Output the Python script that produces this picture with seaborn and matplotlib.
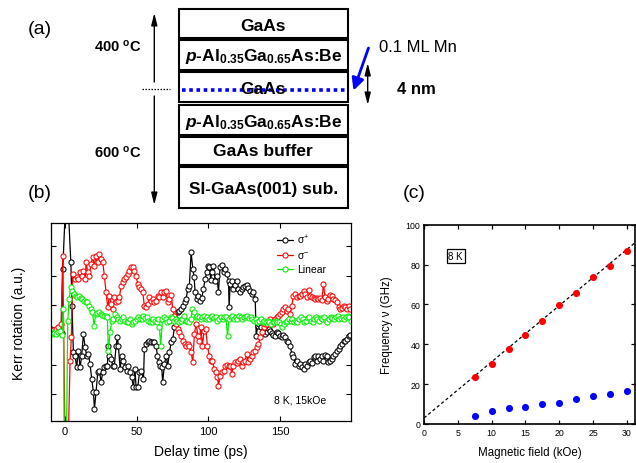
import numpy as np
import pandas as pd
import matplotlib
matplotlib.use("Agg")
import matplotlib.pyplot as plt
import seaborn as sns
from matplotlib.patches import Rectangle

# ---------------- panel (b) data: Kerr rotation vs delay time ----------------
sigma_plus_t = [-9.8, -8.1, -6.3, -4.7, -2.3, -1.6, 1.2, 4.0, 4.9, 5.8,
                7.0, 8.1, 9.3, 10.5, 11.6, 12.8, 14.0, 15.1, 16.3, 17.4,
                18.6, 19.8, 20.5, 21.6, 22.8, 24.0, 25.1, 26.3, 27.4, 28.6,
                29.5, 30.2, 30.9, 32.1, 33.3, 34.4, 35.6, 36.5, 37.2, 38.4,
                39.5, 40.7, 41.9, 43.0, 44.2, 45.3, 46.5, 47.7, 48.8, 49.5,
                50.7, 51.9, 53.0, 54.7, 55.3, 56.5, 57.7, 58.8, 60.0, 61.2,
                62.3, 63.5, 64.4, 65.3, 66.3, 67.4, 68.1, 69.3, 70.5, 71.6,
                72.8, 74.0, 75.1, 76.3, 77.4, 78.6, 79.8, 80.9, 82.1, 83.3,
                84.4, 85.6, 86.7, 87.9, 89.1, 90.0, 90.7, 91.9, 93.0, 94.2,
                95.3, 96.5, 97.7, 98.8, 100.0, 100.7, 101.6, 102.3, 103.5, 104.7,
                105.8, 107.0, 108.1, 109.3, 110.5, 111.6, 112.8, 114.0, 114.4, 115.1,
                116.3, 117.4, 118.6, 119.8, 120.9, 122.1, 123.3, 124.4, 125.6, 126.7,
                127.9, 129.1, 130.2, 131.4, 132.6, 133.3, 134.4, 135.6, 136.7, 137.9,
                139.1, 140.7, 141.9, 143.0, 144.2, 145.3, 146.5, 147.7, 148.8, 150.0,
                151.2, 152.3, 153.5, 154.7, 155.8, 157.0, 158.1, 159.3, 160.5, 161.6,
                162.8, 164.0, 165.1, 166.3, 167.4, 168.6, 169.8, 170.9, 172.1, 173.3,
                174.4, 175.6, 176.7, 177.9, 179.1, 180.2, 181.4, 182.6, 183.7, 184.9,
                186.0, 187.2, 188.4, 189.5, 190.7, 191.9, 193.0, 194.2, 195.3, 196.5,
                197.7, 198.8]
sigma_plus_kerr = [18, 10, 6, 8, 6, 198, 478, 220, 88, -52,
                   -62, -97, -47, -97, -62, 3, -37, -62, -57, -87,
                   -132, -172, -222, -172, -112, -107, -142, -112, -97, -92,
                   -92, -32, -62, -72, -92, -92, -32, -7, -32, -102,
                   -62, -77, -97, -107, -92, -112, -127, -157, -102, -157,
                   -157, -112, -107, -132, -42, -27, -22, -17, -20, -22,
                   -22, -32, -62, -82, -92, -97, -142, -87, -62, -92,
                   -52, -22, -12, 23, 48, 68, 73, 78, 88, 98,
                   108, 138, 148, 248, 198, 173, 128, 108, 116, 103,
                   110, 138, 168, 188, 208, 203, 166, 188, 208, 163,
                   178, 130, 203, 210, 188, 198, 183, 163, 83, 153,
                   163, 138, 150, 163, 138, 128, 138, 143, 146, 150,
                   140, 133, 123, 128, 108, -2, 28, 33, 23, 13,
                   3, 8, 18, 13, 6, 0, -2, 10, 6, -2,
                   -7, 0, -7, -17, -22, -32, -57, -67, -87, -77,
                   -92, -87, -97, -102, -87, -92, -82, -77, -84, -67,
                   -62, -77, -62, -72, -62, -77, -60, -62, -82, -77,
                   -72, -62, -57, -47, -42, -32, -27, -17, -17, -12,
                   -2, 0]

sigma_minus_t = [-9.8, -8.1, -6.3, -4.7, -2.8, -1.6, 0.8, 3.5, 4.4, 5.3,
                 7.0, 8.1, 9.3, 10.5, 11.6, 12.8, 14.0, 14.7, 15.8, 17.0,
                 18.1, 19.3, 20.5, 21.6, 22.8, 24.0, 25.1, 26.3, 27.4, 28.6,
                 29.8, 30.9, 32.1, 33.3, 34.4, 35.6, 36.7, 37.9, 39.1, 40.2,
                 41.4, 42.6, 43.7, 44.9, 46.0, 47.2, 48.4, 49.5, 50.7, 51.9,
                 53.0, 54.2, 55.3, 56.5, 57.7, 58.8, 60.0, 61.2, 62.3, 63.5,
                 64.7, 65.8, 67.0, 68.1, 69.3, 70.5, 71.6, 72.8, 74.0, 75.1,
                 76.3, 77.4, 78.6, 79.8, 80.9, 82.1, 83.3, 84.4, 85.6, 86.7,
                 87.9, 89.1, 90.2, 91.4, 92.6, 93.5, 94.7, 95.8, 97.0, 98.1,
                 99.3, 100.5, 101.6, 102.8, 104.0, 105.1, 106.3, 107.0, 108.1, 109.3,
                 110.5, 111.6, 112.8, 114.0, 115.1, 116.3, 117.4, 118.6, 119.8, 120.9,
                 122.1, 123.3, 124.4, 125.6, 126.7, 127.9, 129.1, 130.2, 131.4, 132.6,
                 133.7, 134.9, 136.0, 137.2, 138.4, 139.5, 140.7, 141.9, 143.0, 144.2,
                 145.3, 146.5, 147.7, 148.8, 150.0, 151.2, 152.3, 153.5, 154.7, 155.8,
                 157.0, 158.1, 159.3, 160.5, 161.6, 162.8, 164.0, 165.1, 166.3, 167.4,
                 168.6, 169.8, 170.9, 172.1, 173.3, 174.4, 175.6, 176.7, 177.9, 179.1,
                 180.2, 181.4, 182.6, 183.7, 184.9, 186.0, 187.2, 188.4, 189.5, 190.7,
                 191.9, 193.0, 194.2, 195.3, 196.5, 197.7, 198.8]
sigma_minus_kerr = [13, 16, 18, 23, 33, 238, -600, -77, -7, 183,
                    168, 173, 168, 188, 178, 193, 168, 218, 188, 178,
                    213, 233, 208, 238, 218, 243, 228, 218, 178, 128,
                    83, 118, 93, 78, 113, 98, 103, 113, 148, 158,
                    168, 173, 183, 193, 203, 203, 193, 178, 153, 143,
                    138, 128, 88, 83, 93, 113, 103, 108, 98, 103,
                    118, 113, 128, 113, 128, 133, 98, 108, 120, 78,
                    58, 33, 18, 8, -2, -17, -27, -32, -27, -32,
                    -52, -82, 3, 33, -2, -17, 23, -32, 13, 18,
                    -32, -62, -77, -77, -102, -112, -127, -154, -122, -112,
                    -107, -92, -90, -94, -92, -117, -92, -82, -84, -77,
                    -72, -92, -80, -77, -57, -82, -72, -62, -52, -47,
                    -37, -27, -7, 8, 23, 33, 33, 43, 48, 38,
                    33, 48, 53, 58, 63, 68, 78, 83, 73, 78,
                    63, 88, 118, 123, 113, 116, 118, 123, 133, 123,
                    113, 136, 118, 113, 110, 108, 110, 108, 110, 106,
                    153, 113, 103, 108, 120, 116, 108, 106, 98, 83,
                    78, 80, 88, 83, 78, 86, 78]

linear_t = [-9.8, -8.6, -7.4, -6.3, -4.7, -3.5, -2.3, -1.2, 0.0, 1.9,
            2.8, 4.0, 5.1, 6.3, 7.4, 8.6, 9.8, 10.9, 12.1, 13.3,
            14.4, 15.6, 16.7, 17.9, 19.1, 20.2, 21.4, 22.6, 23.7, 24.9,
            26.0, 27.2, 28.4, 29.5, 30.2, 31.4, 32.6, 33.7, 34.9, 36.0,
            37.2, 38.4, 39.5, 40.7, 41.9, 43.0, 44.2, 45.3, 46.5, 47.7,
            48.8, 50.0, 51.2, 52.3, 53.5, 54.7, 55.8, 57.0, 58.1, 59.3,
            60.5, 61.6, 62.8, 64.0, 65.1, 65.8, 66.7, 67.9, 69.1, 70.2,
            71.4, 72.6, 73.7, 74.9, 76.0, 77.2, 78.4, 79.5, 80.7, 81.9,
            83.0, 84.2, 85.3, 86.5, 87.7, 88.8, 90.0, 91.2, 92.3, 93.5,
            94.7, 95.8, 97.0, 98.1, 99.3, 100.5, 101.6, 102.8, 104.0, 105.1,
            106.3, 107.4, 108.6, 109.8, 110.9, 112.1, 113.3, 114.4, 115.6, 116.7,
            117.9, 119.1, 120.2, 121.4, 122.6, 123.7, 124.9, 126.0, 127.2, 128.4,
            129.5, 130.7, 131.9, 133.0, 134.2, 135.3, 136.5, 137.7, 138.8, 140.0,
            141.2, 142.3, 143.5, 144.7, 145.8, 147.0, 148.1, 149.3, 150.5, 151.6,
            152.8, 154.0, 155.1, 156.3, 157.4, 158.6, 159.8, 160.9, 162.1, 163.3,
            164.4, 165.6, 166.7, 167.9, 169.1, 170.2, 171.4, 172.6, 173.7, 174.9,
            176.0, 177.2, 178.4, 179.5, 180.7, 181.9, 183.0, 184.2, 185.3, 186.5,
            187.7, 188.8, 190.0, 191.2, 192.3, 193.5, 194.7, 195.8, 197.0, 198.1,
            199.3]
linear_kerr = [8, 3, 6, 3, 8, 13, 0, 78, -700, 43,
               108, 143, 133, 123, 118, 113, 116, 110, 108, 103,
               100, 98, 88, 78, 68, 28, 63, 66, 68, 63,
               60, 56, 56, 53, -47, 8, 43, 48, 63, 53,
               48, 43, 48, 53, 43, 38, 40, 48, 33, 38,
               43, 48, 53, 48, 48, 58, 50, 53, 43, 38,
               38, 48, 43, 38, 48, 23, -32, 48, 53, 48,
               38, 43, 53, 50, 43, 48, 43, 38, 43, 48,
               58, 43, 43, 38, 48, 78, 68, 53, 58, 53,
               48, 53, 58, 48, 53, 48, 53, 56, 50, 53,
               43, 48, 53, 48, 53, 53, -2, 48, 53, 56,
               48, 53, 48, 56, 53, 48, 53, 53, 58, 50,
               53, 48, 43, 48, 38, 43, 48, 40, 43, 38,
               43, 38, 33, 40, 38, 43, 38, 40, 33, 23,
               33, 38, 43, 48, 43, 48, 40, 43, 38, 48,
               53, 48, 38, 43, 50, 53, 43, 38, 48, 53,
               48, 43, 50, 48, 53, 43, 38, 48, 53, 50,
               48, 53, 56, 48, 50, 53, 48, 53, 58, 53,
               43]

delay_ticks = [0, 50, 100, 150]
kerr_ticks = [-178, -89, 0, 89, 178, 267]

# ---------------- panel (c) data: precession frequency vs field ----------------
field_kOe = [7.5, 10, 12.5, 15, 17.5, 20, 22.5, 25, 27.5, 30]
freq_high = [23.5, 30.0, 37.5, 44.5, 51.7, 59.8, 65.7, 73.8, 79.2, 86.7]
freq_low = [4.2, 6.5, 7.8, 8.6, 10.2, 10.5, 12.6, 14.1, 15.3, 16.5]
fit_slope = 2.82      # GHz / kOe
fit_intercept = 3.0   # GHz
field_ticks = [0, 5, 10, 15, 20, 25, 30]
freq_ticks = [0, 20, 40, 60, 80, 100]

# ---------------- style ----------------
sns.set_theme(style="ticks")
plt.rcParams['font.family'] = ['Liberation Sans', 'DejaVu Sans']
plt.rcParams.update({
    'mathtext.fontset': 'custom',
    'mathtext.rm': 'Liberation Sans',
    'mathtext.it': 'Liberation Sans:italic',
    'mathtext.bf': 'Liberation Sans:bold',
    'mathtext.bfit': 'Liberation Sans:bold:italic',
    'axes.edgecolor': 'black',
    'xtick.color': 'black', 'ytick.color': 'black',
    'axes.labelcolor': 'black', 'text.color': 'black',
})

W, H = 636, 464
fig = plt.figure(figsize=(W / 100, H / 100), dpi=100)

# ---------------- panel (a): layer diagram (pixel coordinates) ----------------
axA = fig.add_axes([0, 0, 1, 1])
axA.set_xlim(0, W)
axA.set_ylim(H, 0)
axA.axis('off')

layers = ["GaAs",
          r"$\mathbfit{p}$-Al$_{\mathbf{0.35}}$Ga$_{\mathbf{0.65}}$As:Be",
          "GaAs",
          r"$\mathbfit{p}$-Al$_{\mathbf{0.35}}$Ga$_{\mathbf{0.65}}$As:Be",
          "GaAs buffer",
          "SI-GaAs(001) sub."]
layer_y = [(9.5, 39), (41, 71), (72.7, 103.3), (106, 136), (137.7, 165.7), (167.7, 209)]
text_y = [26.5, 56.5, 89, 122.5, 151.7, 190]
bx0, bx1 = 179, 347.5
for lab, (y0, y1), ty in zip(layers, layer_y, text_y):
    axA.add_patch(Rectangle((bx0, y0), bx1 - bx0, y1 - y0, fill=False,
                            edgecolor='black', lw=1.5))
    axA.text((bx0 + bx1) / 2, ty, lab, ha='center', va='center',
             fontsize=12.5, fontweight='bold')

# Mn delta layer (blue dotted) and reference dotted line
axA.plot([182, 346], [91, 91], color='#0000ff', lw=2.6, linestyle=(0, (1, 1)),
         solid_capstyle='butt')
axA.plot([142, 170], [90, 90], color='black', lw=0.9, linestyle=(0, (1.2, 1.2)))

# growth temperature arrows
arrow_kw = dict(arrowstyle='-|>,head_length=0.6,head_width=0.15', color='black',
                lw=1.0, shrinkA=0, shrinkB=0)
axA.annotate('', xy=(154.3, 14), xytext=(154.3, 83), arrowprops=arrow_kw)
axA.annotate('', xy=(154.3, 206), xytext=(154.3, 97), arrowprops=arrow_kw)
axA.text(118, 47, r"400 $^{\mathbf{o}}$C", ha='center', va='center',
         fontsize=10.5, fontweight='bold')
axA.text(118, 153, r"600 $^{\mathbf{o}}$C", ha='center', va='center',
         fontsize=10.5, fontweight='bold')

# 0.1 ML Mn arrow and 4 nm arrow
axA.annotate('', xy=(353.5, 91.5), xytext=(368.5, 49),
             arrowprops=dict(arrowstyle='-|>,head_length=0.6,head_width=0.3',
                             color='#0000ff', lw=2.0, shrinkA=0, shrinkB=0))
axA.text(418, 47.5, "0.1 ML Mn", ha='center', va='center', fontsize=12)
axA.annotate('', xy=(367.7, 64), xytext=(367.7, 106),
             arrowprops=dict(arrowstyle='<|-|>,head_length=0.6,head_width=0.15',
                             color='black', lw=1.0, shrinkA=0, shrinkB=0))
axA.text(416.5, 89.5, "4 nm", ha='center', va='center', fontsize=12,
         fontweight='bold')

# panel letters
axA.text(40, 29, "(a)", ha='center', va='center', fontsize=14)
axA.text(40, 193.5, "(b)", ha='center', va='center', fontsize=14)
axA.text(414.5, 193.5, "(c)", ha='center', va='center', fontsize=14)

# ---------------- panel (b) ----------------
axB = fig.add_axes([51 / W, 1 - 422 / H, 299.7 / W, 198 / H])
series = [
    (sigma_plus_t, sigma_plus_kerr, '#000000', r"σ$^{+}$"),
    (sigma_minus_t, sigma_minus_kerr, '#ff0000', r"σ$^{-}$"),
    (linear_t, linear_kerr, '#00ee00', "Linear"),
]
for t, k, col, lab in series:
    df = pd.DataFrame({"delay": t, "kerr": k})
    sns.lineplot(data=df, x="delay", y="kerr", ax=axB, sort=False, estimator=None,
                 color=col, lw=0.9, marker='o', markersize=3.7,
                 mfc='white', mec=col, mew=0.75, label=lab)

axB.set_xlim(-9.8, 199.2)
axB.set_ylim(-258, 336)
axB.set_xticks(delay_ticks)
axB.set_yticks(kerr_ticks)
axB.set_yticklabels([])
axB.tick_params(direction='in', top=True, right=True, length=3.5, width=0.8,
                labelsize=8, pad=3.5)
for s in axB.spines.values():
    s.set_linewidth(0.9)
axB.set_xlabel("Delay time (ps)", fontsize=10)
axB.set_ylabel("Kerr rotation (a.u.)", fontsize=10)
axB.xaxis.set_label_coords(0.5, -0.115)
axB.yaxis.set_label_coords(-0.085, 0.5)
handles, labels = axB.get_legend_handles_labels()
axB.legend(handles, labels, loc='upper left', bbox_to_anchor=(0.753, 0.95),
           frameon=False, fontsize=7.5, handlelength=1.6, handletextpad=0.35,
           labelspacing=0.35, borderpad=0, borderaxespad=0, numpoints=1)
axB.text(0.831, 0.111, "8 K, 15kOe", transform=axB.transAxes, ha='center',
         va='center', fontsize=7.5)

# ---------------- panel (c) ----------------
axC = fig.add_axes([424 / W, 1 - 425 / H, 211 / W, 199.3 / H])
dfc = pd.DataFrame({"field": field_kOe, "high": freq_high, "low": freq_low})
xmax = 31.2
fit_df = pd.DataFrame({"field": [0, xmax]})
fit_df["freq"] = fit_intercept + fit_slope * fit_df["field"]
sns.lineplot(data=fit_df, x="field", y="freq", ax=axC, color='black', lw=0.9,
             linestyle=(0, (2.5, 2.0)))
sns.scatterplot(data=dfc, x="field", y="high", ax=axC, color='#ff0000', s=26,
                linewidth=0, zorder=3)
sns.scatterplot(data=dfc, x="field", y="low", ax=axC, color='#0000ff', s=26,
                linewidth=0, zorder=3)
axC.set_xlim(0, xmax)
axC.set_ylim(0, 100)
axC.set_xticks(field_ticks)
axC.set_yticks(freq_ticks)
axC.tick_params(direction='in', top=True, right=True, length=3, width=0.9,
                labelsize=6.3, pad=2.6)
for s in axC.spines.values():
    s.set_linewidth(1.2)
axC.set_xlabel("Magnetic field (kOe)", fontsize=8.3)
axC.set_ylabel("Frequency ν (GHz)", fontsize=8.3)
axC.xaxis.set_label_coords(0.5, -0.108)
axC.yaxis.set_label_coords(-0.147, 0.5)
axC.text(4.7, 84.4, "8 K", ha='center', va='center', fontsize=7,
         bbox=dict(boxstyle='square,pad=0.2', fc='white', ec='black', lw=0.9))

fig.savefig("out.png", dpi=100)
